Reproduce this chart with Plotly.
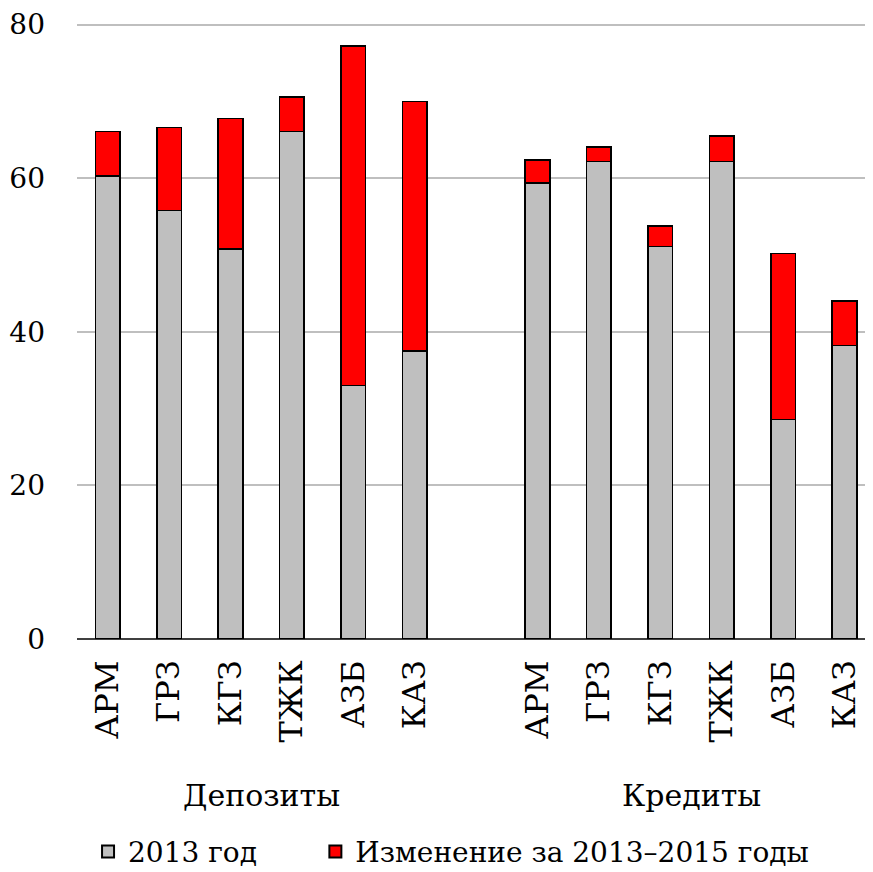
import plotly.graph_objects as go

groups = ["Депозиты", "Кредиты"]
banks = ["АРМ", "ГРЗ", "КГЗ", "ТЖК", "АЗБ", "КАЗ"]

dep_2013 = [60.3, 55.8, 50.8, 66.1, 33.0, 37.5]
dep_total = [66.1, 66.6, 67.8, 70.6, 77.2, 70.0]
cred_2013 = [59.4, 62.2, 51.1, 62.2, 28.6, 38.2]
cred_total = [62.4, 64.1, 53.8, 65.5, 50.2, 44.0]

y_ticks = [0, 20, 40, 60, 80]
series_names = ["2013 год", "Изменение за 2013–2015 годы"]

xpos = list(range(0, 6)) + list(range(7, 13))
base_vals = dep_2013 + cred_2013
change_vals = [round(t - b, 2) for t, b in zip(dep_total + cred_total, base_vals)]
labels = banks + banks

FONT = "DejaVu Serif"
PAD = "\u00a0" * 6

fig = go.Figure()
fig.add_trace(go.Bar(x=xpos, y=base_vals, name=series_names[0] + PAD, width=0.4,
                     marker=dict(color="#BFBFBF", line=dict(color="black", width=1.5))))
fig.add_trace(go.Bar(x=xpos, y=change_vals, name=series_names[1], width=0.4,
                     marker=dict(color="#FF0000", line=dict(color="black", width=1.5))))

fig.update_layout(
    template="none",
    barmode="stack",
    width=865, height=864,
    margin=dict(l=69, r=7, t=9, b=233, autoexpand=False),
    plot_bgcolor="white", paper_bgcolor="white",
    font=dict(family=FONT, color="black", size=30),
    showlegend=True,
    legend=dict(orientation="h", x=0.014, xanchor="left", y=-0.342, yanchor="middle",
                font=dict(size=28, family=FONT), itemsizing="constant",
                traceorder="normal"),
    xaxis=dict(range=[-0.5, 12.35], tickmode="array", tickvals=xpos, ticktext=labels,
               tickangle=-90, showgrid=False, zeroline=False, showline=False,
               ticks="", automargin=False, ticklabelstandoff=14,
               tickfont=dict(size=32, family=FONT)),
    yaxis=dict(range=[0, 81], tickvals=y_ticks, showgrid=True, gridcolor="#BFBFBF",
               gridwidth=1.5, zeroline=True, zerolinecolor="#404040", zerolinewidth=1.5,
               showline=False, ticks="", automargin=False, ticklabelstandoff=31,
               tickfont=dict(size=28, family=FONT)),
)

for i, g in enumerate(groups):
    fig.add_annotation(x=2.5 + 7 * i, y=-0.252, xref="x", yref="paper", text=g,
                       showarrow=False, yanchor="middle", xanchor="center",
                       font=dict(size=30, family=FONT))

fig.write_html("out.html")
